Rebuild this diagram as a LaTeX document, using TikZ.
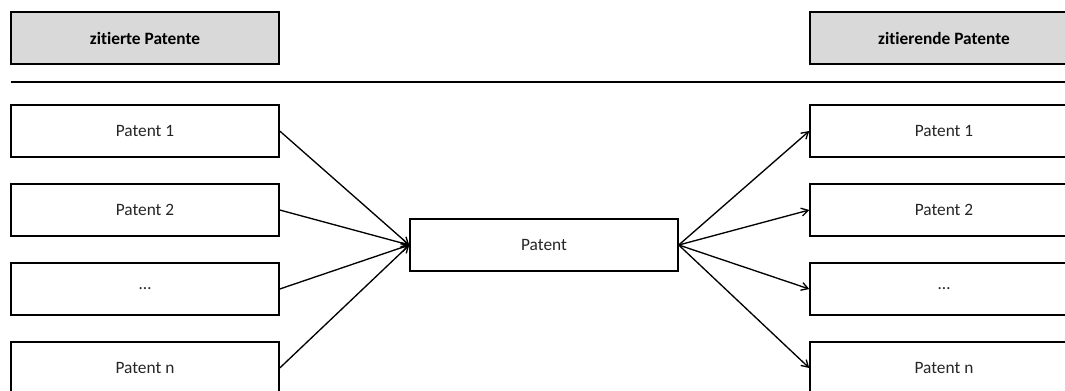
\documentclass[tikz,border=0pt]{standalone}
\usepackage{fontspec}
\setmainfont{Carlito}[Ligatures=NoCommon]
\usetikzlibrary{arrows.meta}
\begin{document}
\begin{tikzpicture}[x=0.75pt,y=-0.75pt,
  box/.style={draw=black,line width=1.1pt,fill=white,text=black!85,minimum width=268*0.75pt,minimum height=52*0.75pt,inner sep=0pt,font=\fontsize{13}{15}\selectfont},
  head/.style={box,fill=black!15,text=black,font=\fontsize{13}{15}\selectfont\bfseries},
  arr/.style={line width=1pt,-{Straight Barb[length=5pt,width=6pt,line width=1pt]}}]
\useasboundingbox (0,0) rectangle (1065,390);
\clip (0,0) rectangle (1065,390);
\node[head] (hl) at (145,38) {zitierte Patente};
\node[head] (hr) at (944,38) {zitierende Patente};
\coordinate (ls) at (11,82);
\coordinate (le) at (1070,82);
\draw[line width=1.1pt] (ls) -- (le);
\node[box] (l1) at (145,131) {Patent 1};
\node[box] (l2) at (145,210) {Patent 2};
\node[box] (l3) at (145,289) {…};
\node[box] (l4) at (145,368) {Patent n};
\node[box] (c) at (544,245) {Patent};
\node[box] (r1) at (944,131) {Patent 1};
\node[box] (r2) at (944,210) {Patent 2};
\node[box] (r3) at (944,289) {…};
\node[box] (r4) at (944,368) {Patent n};
\foreach \i in {1,2,3,4}{
  \draw[arr] (l\i.east) -- (c.west);
  \draw[arr] (c.east) -- (r\i.west);
}
\end{tikzpicture}
\end{document}
